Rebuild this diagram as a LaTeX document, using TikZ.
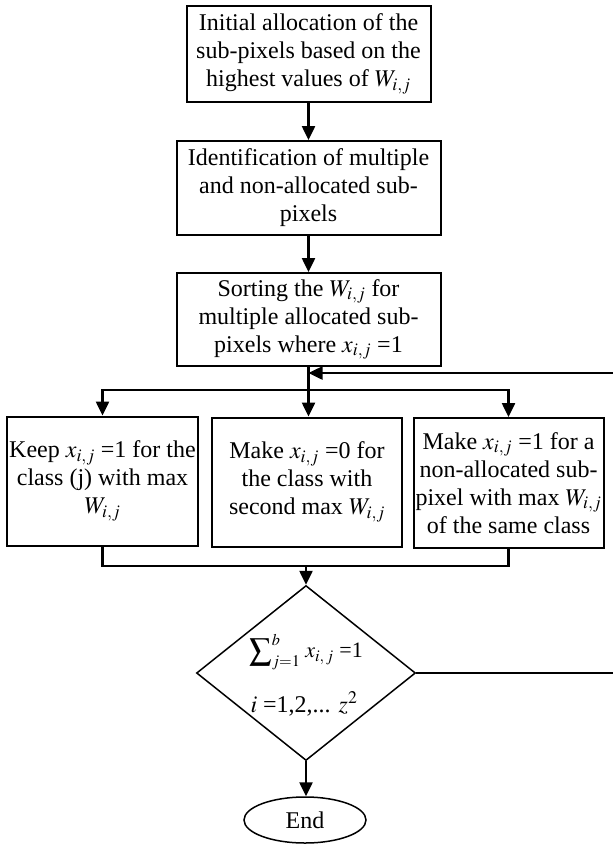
\documentclass[tikz,border=0pt]{standalone}
\usepackage{mathptmx}
\usepackage{fontspec}
\setmainfont{Liberation Serif}
\usetikzlibrary{arrows.meta,shapes.geometric}
\begin{document}
\begin{tikzpicture}[x=1pt,y=-1pt,
  box/.style={draw,line width=2pt,inner sep=0pt,align=center,font=\fontsize{24}{28}\selectfont},
  conn/.style={line width=2.5pt},
  arr/.style={conn,-{Triangle[width=13pt,length=14pt]}},
  thin/.style={line width=1.5pt},
  txt/.style={inner sep=0pt,font=\fontsize{22}{26}\selectfont}
]
\useasboundingbox (0,0) rectangle (613,847);
\node[box,minimum width=244pt,minimum height=96pt] (b1) at (308.5,54)
  {Initial allocation of the\\sub-pixels based on the\\highest values of $W_{i,j}$};
\node[box,minimum width=264pt,minimum height=94pt] (b2) at (308.5,188)
  {Identification of multiple\\and non-allocated sub-\\pixels};
\node[box,minimum width=264pt,minimum height=93pt] (b3) at (308.5,319.5)
  {Sorting the $W_{i,j}$ for\\multiple allocated sub-\\pixels where $x_{i,j}$ =1};
\node[box,minimum width=191pt,minimum height=129pt] (k1) at (102.5,481)
  {Keep $x_{i,j}$ =1 for the\\class (j) with max\\$W_{i,j}$};
\node[box,minimum width=190pt,minimum height=129pt] (k2) at (307,482)
  {Make $x_{i,j}$ =0 for\\the class with\\second max $W_{i,j}$};
\node[box,minimum width=190pt,minimum height=130pt] (k3) at (508.5,483)
  {Make $x_{i,j}$ =1 for a\\non-allocated sub-\\pixel with max $W_{i,j}$\\of the same class};
\node[draw,thin,diamond,minimum width=219pt,minimum height=175pt,inner sep=0pt] (d) at (306,673) {};
\node[txt] (dt1) at (306,652) {$\displaystyle\sum\nolimits_{j=1}^{b}\, x_{i,\,j}$ =1};
\node[txt,font=\fontsize{24}{28}\selectfont] (dt2) at (304,704) {$i$ =1,2,... $z^{2}$};
\node[draw,thin,ellipse,minimum width=122pt,minimum height=46pt,inner sep=0pt,font=\fontsize{24}{28}\selectfont] (e) at (305,820) {End};
% connectors
\draw[arr] (b1.south) -- (b2.north);
\draw[arr] (b2.south) -- (b3.north);
\coordinate (br) at (308.5,390);
\draw[conn] (b3.south) -- (br);
\draw[arr] (br) -| (k1.north);
\draw[arr] (br) -| (k3.north);
\draw[arr] (br) -- (k2.north -| br);
\coordinate (fbR) at (613,373);
\coordinate (fbL) at (308.5,373);
\draw[arr] (fbR) -- (fbL);
\coordinate (mg) at (306,566);
\draw[conn] (k1.south) |- (mg);
\draw[conn] (k3.south) |- (mg);
\draw[arr] (mg) -- (d.north);
\draw[arr] (d.south) -- (e.north -| d.south);
\coordinate (dR) at (613,673);
\draw[thin] (d.east) -- (dR);
\end{tikzpicture}
\end{document}
